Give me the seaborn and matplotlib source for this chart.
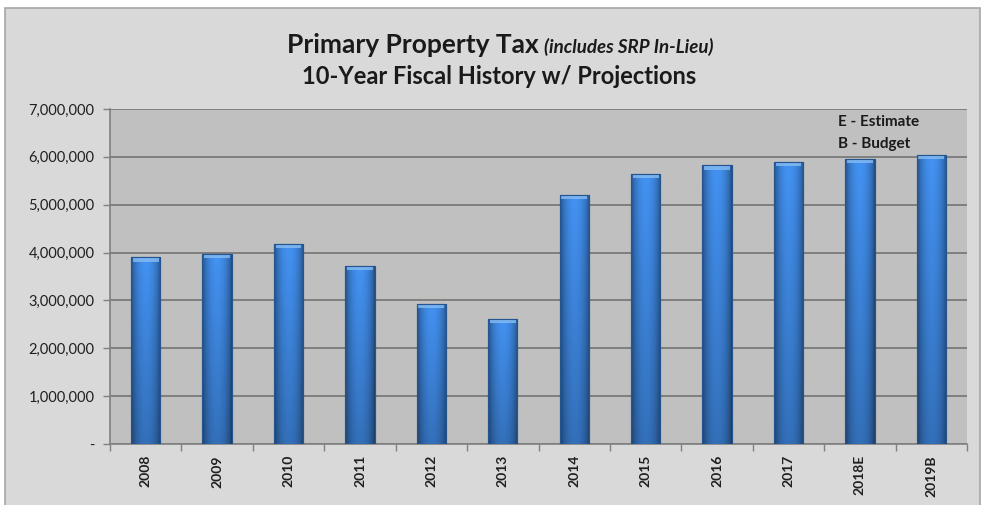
import numpy as np
import pandas as pd
import matplotlib
matplotlib.use("Agg")
import matplotlib.pyplot as plt
from matplotlib.patches import Rectangle, FancyBboxPatch
import seaborn as sns

# Primary property tax collections by fiscal year
years = ["2008", "2009", "2010", "2011", "2012", "2013",
         "2014", "2015", "2016", "2017", "2018E", "2019B"]
revenue = [3900000, 3970000, 4180000, 3720000, 2920000, 2620000,
           5210000, 5640000, 5820000, 5890000, 5960000, 6040000]
y_ticks = [0, 1000000, 2000000, 3000000, 4000000, 5000000, 6000000, 7000000]
y_tick_labels = ["-", "1,000,000", "2,000,000", "3,000,000", "4,000,000",
                 "5,000,000", "6,000,000", "7,000,000"]
title_main = "Primary Property Tax"
title_note = "(includes SRP In-Lieu)"
subtitle = "10-Year Fiscal History w/ Projections"
key_lines = ["E - Estimate", "B - Budget"]

df = pd.DataFrame({"year": years, "revenue": revenue})

sns.set_theme(style="white")
plt.rcParams["font.family"] = ["Lato", "DejaVu Sans"]

W, H = 987, 505
fig = plt.figure(figsize=(W / 100, H / 100), dpi=100)
fig.patch.set_facecolor("white")

# chart frame behind everything
frame = Rectangle((5 / W, -0.05), 975 / W, 1.05 - 8 / H, transform=fig.transFigure,
                  facecolor="#d9d9d9", edgecolor="#a6a6a6", lw=1.2, zorder=-5)
fig.patches.append(frame)

ax = fig.add_axes([110 / W, 1 - 444 / H, 857 / W, 335 / H])
ax.set_zorder(2)
ax.set_facecolor("#c0c0c0")

sns.barplot(data=df, x="year", y="revenue", ax=ax, color="#3b7fd0",
            width=0.41, saturation=1, edgecolor="#24558f", linewidth=0.8, zorder=3)

ax.set_ylim(0, 7000000)
ax.set_xlim(-0.5, len(years) - 0.5)
ax.set_yticks(y_ticks)
ax.set_yticklabels(y_tick_labels)
ax.yaxis.grid(True, color="#7a7a7a", lw=1.3, zorder=1)
ax.set_axisbelow(True)
ax.set_xlabel("")
ax.set_ylabel("")

for side in ["top", "right"]:
    ax.spines[side].set_visible(False)
for side in ["left", "bottom"]:
    ax.spines[side].set_color("#808080")
    ax.spines[side].set_linewidth(1.2)

# category boundary ticks on the x axis
ax.set_xticks(np.arange(len(years)))
ax.set_xticklabels(years, rotation=90, fontsize=10, color="#1f1f1f")
ax.set_xticks(np.arange(len(years) + 1) - 0.5, minor=True)
ax.tick_params(axis="x", which="major", length=0, pad=8)
ax.tick_params(axis="x", which="minor", length=5, width=1, color="#808080",
               direction="out", bottom=True)
ax.tick_params(axis="y", length=5, width=1, color="#808080", direction="out",
               left=True, labelsize=10.5, labelcolor="#1f1f1f", pad=6)
for t in ax.get_xticklabels():
    t.set_fontweight("bold")

# cylindrical shading for each bar
u = np.linspace(0, 1, 64)
shade_h = 0.55 + 0.55 * np.sin(np.pi * u) ** 0.6
v = np.linspace(0, 1, 128)[:, None]
shade_v = 0.80 + 0.24 * v
base = np.array([0.23, 0.50, 0.83])
img = np.clip(base[None, None, :] * shade_h[None, :, None] * shade_v[:, :, None], 0, 1)
cap = 7000000 / 335 * 4.0
for bar in list(ax.patches):
    x0, y0 = bar.get_x(), bar.get_y()
    w, h = bar.get_width(), bar.get_height()
    im = ax.imshow(img, extent=[x0, x0 + w, y0, y0 + h], origin="lower",
                   aspect="auto", zorder=4, interpolation="bilinear")
    im.set_clip_path(bar)
    # bevelled highlight along the top edge
    ax.add_patch(Rectangle((x0 + w * 0.06, y0 + h - cap * 1.05), w * 0.88, cap,
                           facecolor="#86bdf3", edgecolor="none", alpha=0.8, zorder=5))
    ax.add_patch(Rectangle((x0, y0), w, h, facecolor="none", edgecolor="#24558f",
                           lw=0.8, zorder=6))
ax.set_xlim(-0.5, len(years) - 0.5)
ax.set_ylim(0, 7000000)

# key for the year suffixes
for i, line in enumerate(key_lines):
    fig.text(838 / W, 1 - (122 + i * 22) / H, line, fontsize=11, fontweight="bold",
             color="#1a1a1a", va="center", ha="left", zorder=5)

# title with an italic note after the main words
fig.canvas.draw()
r = fig.canvas.get_renderer()
t1 = fig.text(0, 1 - 45 / H, title_main, fontsize=19, fontweight="bold",
              color="#1a1a1a", va="center", ha="left")
t2 = fig.text(0, 1 - 47 / H, title_note, fontsize=13.5, fontweight="bold",
              fontstyle="italic", color="#1a1a1a", va="center", ha="left")
w1 = t1.get_window_extent(r).width
w2 = t2.get_window_extent(r).width
gap = 5
start = 500 - (w1 + gap + w2) / 2
t1.set_x(start / W)
t2.set_x((start + w1 + gap) / W)
fig.text(499 / W, 1 - 77 / H, subtitle, fontsize=17, fontweight="bold",
         color="#1a1a1a", va="center", ha="center")

fig.savefig("out.png", dpi=100, facecolor="white")
